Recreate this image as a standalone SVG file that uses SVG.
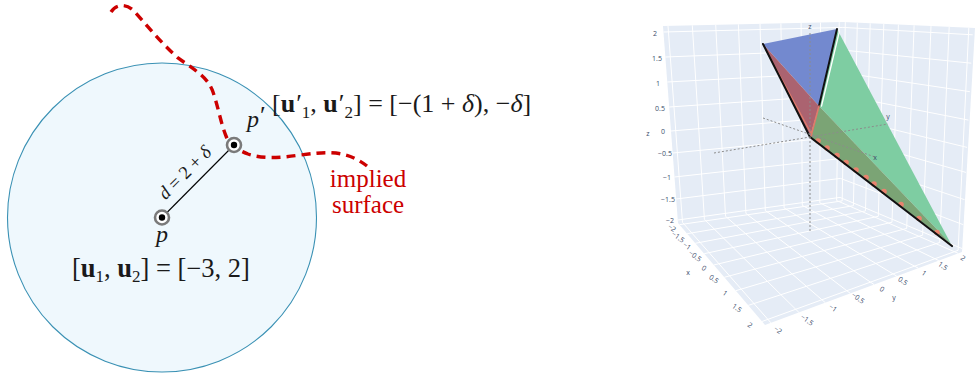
<svg xmlns="http://www.w3.org/2000/svg" width="975" height="375" viewBox="0 0 975 375">
<style>
.serif{font-family:"Liberation Serif","DejaVu Serif",serif;fill:#1a1a1a}
.it{font-style:italic}
.b{font-weight:bold}
.red{fill:#cc0000}
.tick{font-family:"Open Sans","Liberation Sans",sans-serif;font-size:7px;fill:#3b4d6b;text-anchor:middle}
.grid{stroke:#ffffff;stroke-width:1;fill:none}
.axisdot{stroke:#8c8c8c;stroke-width:1;stroke-dasharray:2 2;fill:none}
.ring{fill:#ffffff;stroke:#7a7a7a;stroke-width:2.6}
</style>
<rect width="975" height="375" fill="#ffffff"/>

<!-- Left diagram -->
<g id="ball">
  <circle cx="162" cy="217.5" r="154.5" fill="#eff8fd" stroke="#3a91b4" stroke-width="1.1"/>
</g>
<g id="implied-surface">
  <path d="M111,12 C116,4 126,3 134,11 C146,24 160,42 178,58 C198,72 208,78 213,92 C218,106 221,124 226,136 C230,146 238,150 248,154 C262,159 280,158 300,155 C325,152 345,149 367,166" fill="none" stroke="#cc0000" stroke-width="3.4" stroke-dasharray="9 6"/>
  <text class="serif red" x="368" y="187" font-size="25" text-anchor="middle">implied</text>
  <text class="serif red" x="368" y="213" font-size="25" text-anchor="middle">surface</text>
</g>
<g id="connectors">
  <line x1="162" y1="217.5" x2="234" y2="145" stroke="#000" stroke-width="1.1"/>
  <text class="serif" x="189" y="177" font-size="18.5" text-anchor="middle" transform="rotate(-45 189 177)"><tspan class="it">d</tspan> = 2 + <tspan class="it">δ</tspan></text>
</g>
<g id="node-p">
  <circle class="ring" cx="162" cy="217.5" r="7"/>
  <circle cx="162" cy="217.5" r="3.2" fill="#000"/>
  <text class="serif it" x="162" y="242" font-size="24" text-anchor="middle">p</text>
  <text class="serif" x="72" y="277" font-size="26.5">[<tspan class="b">u</tspan><tspan font-size="17" dy="5">1</tspan><tspan dy="-5">, </tspan><tspan class="b">u</tspan><tspan font-size="17" dy="5">2</tspan><tspan dy="-5">] = [−3, 2]</tspan></text>
</g>
<g id="node-pprime">
  <circle class="ring" cx="234" cy="145" r="7"/>
  <circle cx="234" cy="145" r="3.2" fill="#000"/>
  <text class="serif it" x="247" y="127" font-size="24">p<tspan font-style="normal" font-size="26" dx="1" dy="-3">′</tspan></text>
  <text class="serif" x="272" y="112" font-size="26">[<tspan class="b">u</tspan><tspan font-size="26" dx="1">′</tspan><tspan font-size="17" dy="6">1</tspan><tspan dy="-6">, </tspan><tspan class="b">u</tspan><tspan font-size="26" dx="1">′</tspan><tspan font-size="17" dy="6">2</tspan><tspan dy="-6">] = [−(1 + </tspan><tspan class="it">δ</tspan>), −<tspan class="it">δ</tspan>]</text>
</g>

<!-- Right 3D plot -->
<g id="scene3d">
  <polygon points="663,26 843,22 975,28 962,252 765,325 678,223" fill="#e5ecf6"/>
  <path class="grid" d="M668,25.9L682.5,222.4 M692.3,25.3L704.4,219.3 M715.7,24.8L725.5,216.3 M738.4,24.3L745.9,213.4 M760,23.8L765.3,210.6 M780.9,23.4L784.1,207.9 M801.1,22.9L802.3,205.4 M820.5,22.5L819.8,202.9 M839.2,22.1L836.6,200.5"/>
  <path class="grid" d="M663.5,32L842.9,27.4 M665.4,57L842.5,50 M667.3,82L842.1,72.6 M669.2,107L841.8,95.2 M671,131L841.4,116.9 M672.7,153L841.1,136.8 M674.5,177L840.7,158.5 M676.2,199L840.4,178.4 M677.8,220L840,197.4"/>
  <path class="grid" d="M842.9,27.4L972.7,34.8 M842.5,50L971.3,63.2 M842.1,72.6L969.9,91.7 M841.8,95.2L968.5,120.1 M841.4,116.9L967.1,147.4 M841.1,136.8L965.9,172.4 M840.7,158.5L964.6,199.7 M840.4,178.4L963.3,224.7 M840,197.4L962.2,248.6"/>
  <path class="grid" d="M845.3,22.1L842.2,200.9 M857.3,22.7L853.4,205.7 M870.2,23.3L865.5,210.9 M883.8,23.9L878.3,216.3 M898.4,24.6L892,222.2 M914.1,25.3L906.7,228.4 M931,26.1L922.6,235.2 M949.2,26.9L939.7,242.5 M968.8,27.8L958.1,250.3"/>
  <path class="grid" d="M679.5,224.7L842.2,200.9 M687.1,233.7L853.4,205.7 M695.3,243.3L865.5,210.9 M704.2,253.7L878.3,216.3 M713.8,265L892,222.2 M724.3,277.3L906.7,228.4 M735.8,290.7L922.6,235.2 M748.3,305.4L939.7,242.5 M762,321.5L958.1,250.3"/>
  <path class="grid" d="M682.5,222.4L770.9,322.8 M704.4,219.3L798.9,312.4 M725.5,216.3L825.3,302.7 M745.9,213.4L850.3,293.4 M765.3,210.6L874.1,284.6 M784.1,207.9L896.8,276.2 M802.3,205.4L918.3,268.2 M819.8,202.9L938.8,260.6 M836.6,200.5L958.3,253.4"/>

  <g id="surfaces">
    <polygon points="763,44 837,29 819,106" fill="#7389cf"/>
    <polygon points="763,44 819,106 810,137" fill="#ab6370"/>
    <polygon points="837,29 951,244 819,106" fill="#7ecda2"/>
    <polygon points="819,106 951,244 810,137" fill="#7ba475"/>
  </g>
  <g id="dots" fill="#e8836e">
    <circle cx="818" cy="141" r="2.8"/><circle cx="827" cy="148" r="2.8"/><circle cx="837" cy="155.5" r="2.8"/>
    <circle cx="846" cy="162.5" r="2.8"/><circle cx="856" cy="170" r="2.8"/><circle cx="866" cy="177.5" r="2.8"/>
    <circle cx="874" cy="184" r="2.8"/><circle cx="884" cy="191.5" r="2.8"/><circle cx="901" cy="204.5" r="2.8"/>
    <circle cx="919" cy="218.5" r="2.8"/><circle cx="937" cy="232.5" r="2.8"/>
  </g>
  <g id="edges" fill="none" stroke-linecap="round">
    <line x1="766" y1="50" x2="812" y2="135" stroke="#e07a6a" stroke-width="1.4"/>
    <line x1="763" y1="44" x2="810" y2="137" stroke="#111" stroke-width="2"/>
    <line x1="839.5" y1="31" x2="821.5" y2="106" stroke="#ffffff" stroke-width="1.3"/>
    <line x1="837" y1="29" x2="819" y2="106" stroke="#111" stroke-width="2"/>
    <line x1="819" y1="106" x2="811" y2="136" stroke="#e07a6a" stroke-width="1.6"/>
    <line x1="810" y1="137" x2="952" y2="246" stroke="#111" stroke-width="2.2"/>
  </g>
  <g id="axes">
    <line class="axisdot" x1="810" y1="33" x2="810" y2="232"/>
    <line class="axisdot" x1="763" y1="118" x2="875" y2="157"/>
    <line class="axisdot" x1="714" y1="153" x2="888" y2="124"/>
    <text class="tick" x="810" y="29">z</text>
    <text class="tick" x="875" y="159.5">x</text>
    <text class="tick" x="888" y="119">y</text>
  </g>
  <g id="ticks-z">
    <text class="tick" x="655" y="35.5">2</text>
    <text class="tick" x="657" y="60.5">1.5</text>
    <text class="tick" x="658" y="85.5">1</text>
    <text class="tick" x="660" y="110.5">0.5</text>
    <text class="tick" x="663" y="133.5">0</text>
    <text class="tick" x="665" y="155.5">−0.5</text>
    <text class="tick" x="667" y="179.5">−1</text>
    <text class="tick" x="668" y="201.5">−1.5</text>
    <text class="tick" x="670" y="222.5">−2</text>
    <text class="tick" x="648" y="135.5">z</text>
  </g>
  <g id="ticks-x">
    <text class="tick" x="672" y="230.5" transform="rotate(35 672 228)">−2</text>
    <text class="tick" x="678" y="239.5" transform="rotate(35 678 237)">−1.5</text>
    <text class="tick" x="687" y="248.5" transform="rotate(35 687 246)">−1</text>
    <text class="tick" x="695" y="258.5" transform="rotate(35 695 256)">−0.5</text>
    <text class="tick" x="704" y="270.5" transform="rotate(35 704 268)">0</text>
    <text class="tick" x="714" y="281.5" transform="rotate(35 714 279)">0.5</text>
    <text class="tick" x="725" y="295.5" transform="rotate(35 725 293)">1</text>
    <text class="tick" x="737" y="310.5" transform="rotate(35 737 308)">1.5</text>
    <text class="tick" x="750" y="327.5" transform="rotate(35 750 325)">2</text>
    <text class="tick" x="688" y="274.5">x</text>
  </g>
  <g id="ticks-y">
    <text class="tick" x="778" y="332.5" transform="rotate(35 778 330)">−2</text>
    <text class="tick" x="807" y="322.5" transform="rotate(35 807 320)">−1.5</text>
    <text class="tick" x="833" y="310.5" transform="rotate(35 833 308)">−1</text>
    <text class="tick" x="858" y="300.5" transform="rotate(35 858 298)">−0.5</text>
    <text class="tick" x="882" y="291.5" transform="rotate(35 882 289)">0</text>
    <text class="tick" x="903" y="283.5" transform="rotate(35 903 281)">0.5</text>
    <text class="tick" x="924" y="275.5" transform="rotate(35 924 273)">1</text>
    <text class="tick" x="943" y="268.5" transform="rotate(35 943 266)">1.5</text>
    <text class="tick" x="963" y="260.5" transform="rotate(35 963 258)">2</text>
    <text class="tick" x="894" y="299.5">y</text>
  </g>
</g>
</svg>
